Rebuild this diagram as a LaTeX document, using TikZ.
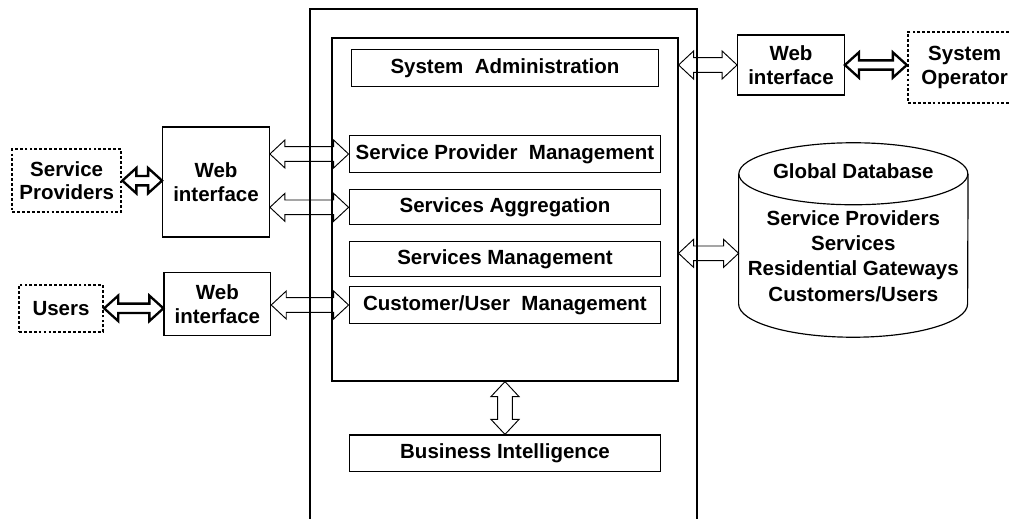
\documentclass[tikz,border=0pt]{standalone}
\usepackage{fontspec}
\setmainfont{Liberation Sans}
\usetikzlibrary{calc}

% outlined two-headed block arrow: #1 half shaft, #2 half head, #3 head length
\tikzset{
  blockarrow/.style n args={3}{to path={
    ($(\tikztostart)!#3!(\tikztotarget)$) coordinate (ba1)
    ($(\tikztotarget)!#3!(\tikztostart)$) coordinate (ba2)
    (\tikztostart) -- ($(ba1)!#2!90:(\tikztotarget)$) -- ($(ba1)!#1!90:(\tikztotarget)$)
    -- ($(ba2)!#1!-90:(\tikztostart)$) -- ($(ba2)!#2!-90:(\tikztostart)$) -- (\tikztotarget)
    -- ($(ba2)!#2!90:(\tikztostart)$) -- ($(ba2)!#1!90:(\tikztostart)$)
    -- ($(ba1)!#1!-90:(\tikztotarget)$) -- ($(ba1)!#2!-90:(\tikztotarget)$) -- cycle
  }}
}

\begin{document}
\begin{tikzpicture}[node distance=2cm, auto, font=\fontsize{17.5}{20}\selectfont\bfseries]
  % Define block styles
  \tikzstyle{module} = [rectangle, draw, line width=1pt, minimum width=9.35cm, minimum height=1.1cm, inner sep=0pt]
  \tikzstyle{web} = [rectangle, draw, line width=1pt, align=center, minimum width=3.2cm]
  \tikzstyle{actor} = [rectangle, draw, line width=2pt, dash pattern=on 2.4pt off 1.8pt, align=center]
  \tikzstyle{hollow} = [draw, line width=0.8pt, blockarrow={0.22cm}{0.42cm}{0.45cm}]
  \tikzstyle{bold} = [draw, line width=2pt, line join=miter, blockarrow={0.14cm}{0.38cm}{0.42cm}]

  \useasboundingbox (0,0) rectangle (30.3,-15.57);

  % Platform frame, open at the bottom
  \draw[line width=1pt] (9.3,-15.6) -- (9.3,-0.27) -- (20.91,-0.27) -- (20.91,-15.6);
  \node [rectangle, draw, line width=1pt, minimum width=10.38cm, minimum height=10.29cm] (inner) at (15.15,-6.285) {};

  % Place blocks
  \node [module, minimum width=9.2cm] (sysadmin) at (15.15,-2.04) {System~ Administration};
  \node [module, below of=sysadmin, node distance=2.58cm] (spm) {Service Provider~ Management};
  \node [module, below of=spm, node distance=1.6cm, minimum height=1.05cm] (aggr) {Services Aggregation};
  \node [module, below of=aggr, node distance=1.56cm, minimum height=1.05cm] (servm) {Services Management};
  \node [module, below of=servm, node distance=1.37cm] (cum) {Customer/User~ Management};
  \node [module, below of=cum, node distance=4.45cm] (bi) {Business Intelligence};

  \node [web, minimum height=3.3cm] (webL) at (6.48,-5.46) {Web\\interface};
  \node [web, minimum height=1.89cm] (webU) at (6.52,-9.13) {Web\\interface};
  \node [web, minimum height=1.8cm] (webR) at (23.73,-1.95) {Web\\interface};

  \node [actor, minimum width=3.27cm, minimum height=1.89cm] (provider) at (2,-5.42) {Service\\Providers};
  \node [actor, minimum width=2.52cm, minimum height=1.41cm] (users) at (1.83,-9.25) {Users};
  \node [actor, minimum width=3.4cm, minimum height=2.13cm] (sysop) at (28.94,-2.02) {System\\Operator};

  % Global database drum
  \node [minimum width=6.87cm, minimum height=5.82cm] (db) at (25.6,-7.2) {};
  \draw[line width=1pt] ([yshift=-0.93cm]db.north) ellipse [x radius=3.435cm, y radius=0.93cm];
  \draw[line width=1pt] ([yshift=-0.93cm]db.north west) -- ([yshift=1cm]db.south west)
    arc[start angle=180, end angle=360, x radius=3.435cm, y radius=1cm] -- ([yshift=-0.93cm]db.north east);
  \node (dbtitle) at ([yshift=-0.85cm]db.north) {Global Database};
  \node [align=center, font=\fontsize{17.5}{21.5}\selectfont\bfseries] (dbtables) at ([yshift=-0.48cm]db.center) {Service Providers\\Services\\Residential Gateways\\Customers/Users};
  \coordinate (dbport) at ([yshift=-0.4cm]db.west);

  % Draw lines
  \path [bold] (provider.east) to (provider.east -| webL.west);
  \path [bold] (users.east) to (users.east -| webU.west);
  \path [bold] (webR.east) to (webR.east -| sysop.west);
  \path [hollow] (spm.west -| webL.east) to (spm.west);
  \path [hollow] (aggr.west -| webL.east) to (aggr.west);
  \path [hollow] (cum.west -| webU.east) to (cum.west);
  \path [hollow] (inner.east |- webR.west) to (webR.west);
  \path [hollow] (inner.east |- dbport) to (dbport);
  \path [hollow] (inner.south) to (inner.south |- bi.north);
\end{tikzpicture}
\end{document}
